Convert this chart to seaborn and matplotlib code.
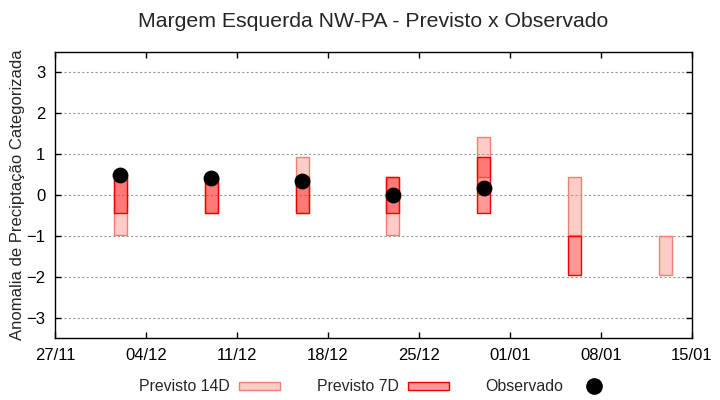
import numpy as np
import pandas as pd
import matplotlib
matplotlib.use("Agg")
import matplotlib.pyplot as plt
import matplotlib.dates as mdates
from matplotlib.patches import Patch
from matplotlib.lines import Line2D
import seaborn as sns

# Datas das previsoes (semanais)
datas = ["2023-12-02", "2023-12-09", "2023-12-16", "2023-12-23",
         "2023-12-30", "2024-01-06", "2024-01-13"]

# Faixas da previsao de 14 dias (inferior / superior)
prev14_min = [-0.97, -0.45, -0.45, -0.97, 0.43, -0.97, -1.97]
prev14_max = [0.43, 0.43, 0.93, 0.43, 1.43, 0.43, -1.0]

# Faixas da previsao de 7 dias
prev7_min = [-0.45, -0.45, -0.45, -0.45, -0.45, -1.97, np.nan]
prev7_max = [0.43, 0.43, 0.43, 0.43, 0.93, -1.0, np.nan]

# Anomalia observada
observado = [0.5, 0.41, 0.34, 0.0, 0.17, np.nan, np.nan]

ticks_x = ["2023-11-27", "2023-12-04", "2023-12-11", "2023-12-18",
           "2023-12-25", "2024-01-01", "2024-01-08", "2024-01-15"]

df = pd.DataFrame({
    "data": pd.to_datetime(datas),
    "p14_min": prev14_min, "p14_max": prev14_max,
    "p7_min": prev7_min, "p7_max": prev7_max,
    "obs": observado,
})

sns.set_theme(style="white")
plt.rcParams["font.family"] = ["Liberation Sans", "DejaVu Sans"]
plt.rcParams["xtick.direction"] = "in"
plt.rcParams["ytick.direction"] = "in"

fig = plt.figure(figsize=(7.2, 4.0), dpi=100)
ax = fig.add_axes([0.0764, 0.155, 0.8847, 0.715])

cor14_face = (0.98, 0.50, 0.45, 0.4)
cor14_edge = "#f08070"
cor7_face = (1.0, 0.0, 0.0, 0.4)
cor7_edge = "#ee0000"

ax.bar(df["data"], df["p14_max"] - df["p14_min"], bottom=df["p14_min"], width=1.0,
       color=cor14_face, edgecolor=cor14_edge, linewidth=1.0, zorder=2)
ax.bar(df["data"], df["p7_max"] - df["p7_min"], bottom=df["p7_min"], width=1.0,
       color=cor7_face, edgecolor=cor7_edge, linewidth=1.0, zorder=3)

sns.scatterplot(data=df, x="data", y="obs", color="black", s=130,
                edgecolor="black", linewidth=0, ax=ax, zorder=4, legend=False)

ax.set_xlim(pd.Timestamp(ticks_x[0]), pd.Timestamp(ticks_x[-1]))
ax.set_ylim(-3.5, 3.5)
ax.set_xticks(pd.to_datetime(ticks_x))
ax.xaxis.set_major_formatter(mdates.DateFormatter("%d/%m"))
ax.set_yticks(range(-3, 4))

ax.yaxis.grid(True, color="#999999", linestyle=(0, (2, 2)), linewidth=0.8)
ax.xaxis.grid(False)
ax.tick_params(axis="both", which="major", labelsize=12, length=4, width=1,
               color="black", top=True, right=True, bottom=True, left=True,
               labelcolor="black", pad=7)
for s in ax.spines.values():
    s.set_color("black")
    s.set_linewidth(1.0)

ax.set_xlabel("")
ax.set_ylabel("Anomalia de Preciptação Categorizada", fontsize=12, labelpad=1)
fig.suptitle("Margem Esquerda NW-PA - Previsto x Observado", fontsize=15.3,
             x=0.518, y=0.97)

handles = [
    Patch(facecolor=cor14_face, edgecolor=cor14_edge, linewidth=1.0),
    Patch(facecolor=cor7_face, edgecolor=cor7_edge, linewidth=1.0),
    Line2D([], [], marker="o", color="black", linestyle="none", markersize=11),
]
fig.legend(handles, ["Previsto 14D", "Previsto 7D", "Observado"], loc="center",
           bbox_to_anchor=(0.523, 0.033), ncol=3, frameon=False, markerfirst=False,
           fontsize=11.4, handlelength=2.6, handleheight=0.4, handletextpad=0.6,
           columnspacing=2.3)

fig.savefig("out.png", dpi=100)
